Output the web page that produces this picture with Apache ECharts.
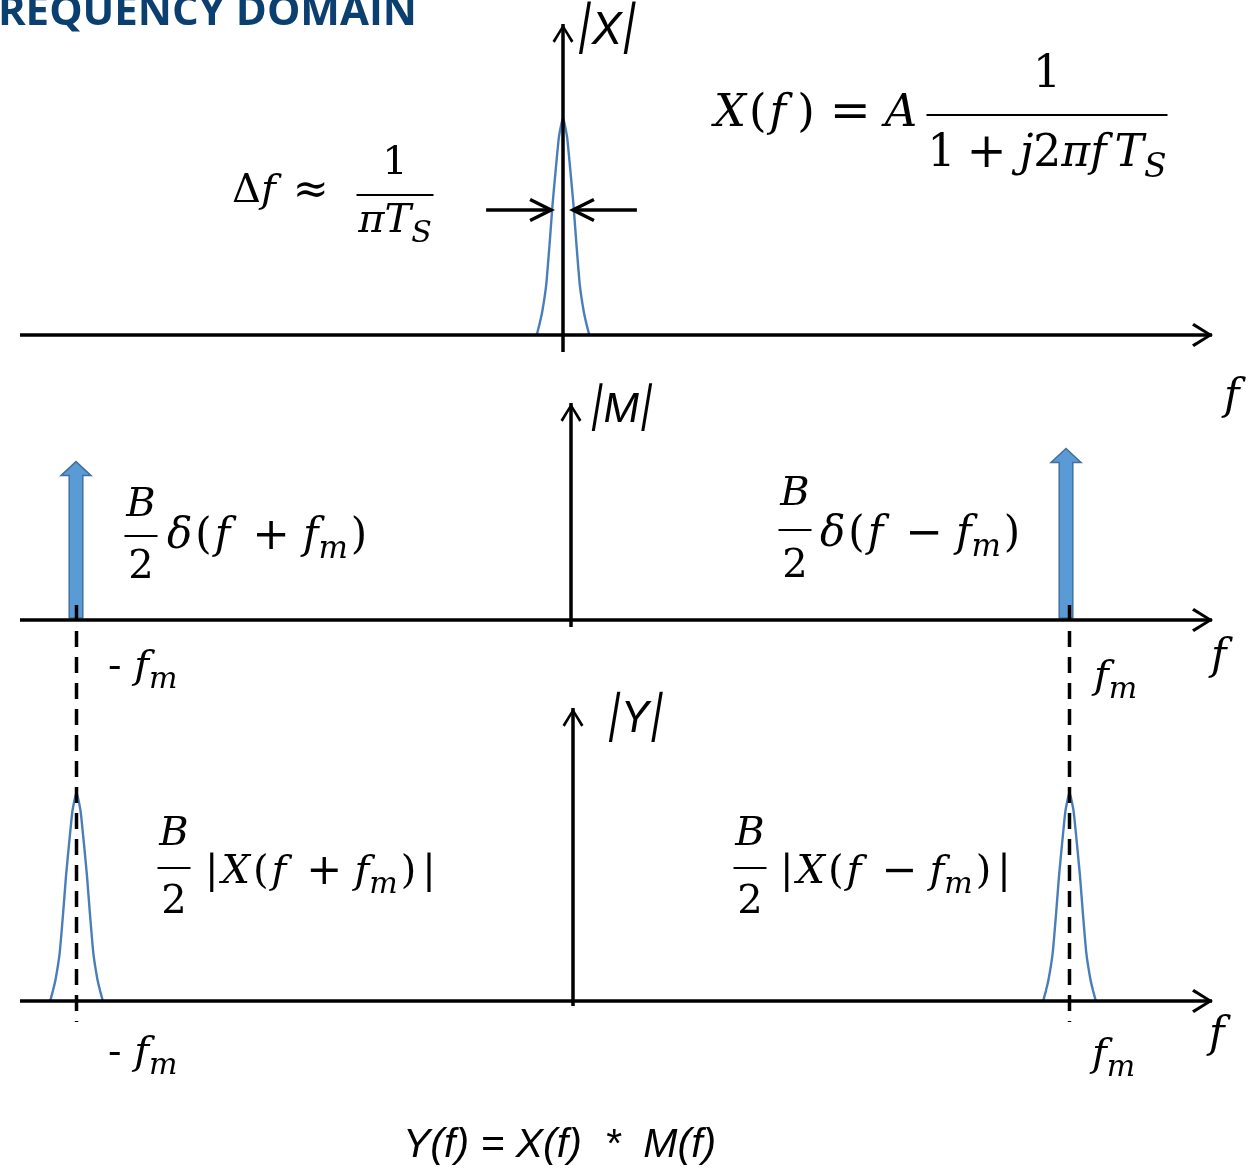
<!DOCTYPE html>
<html>
<head>
<meta charset="utf-8">
<script src="https://cdn.jsdelivr.net/npm/echarts@6/dist/echarts.min.js"></script>
<style>
  html, body { margin: 0; padding: 0; background: #fff; }
  #chart { width: 1253px; height: 1172px; }
</style>
</head>
<body>
<div id="chart"></div>
<script>
// ---- spectrum data (frequency in axis units, magnitude in amplitude units) ----
const fm = 10;                                   // modulation frequency
// Shape of |X(f)| around its centre: frequency offset and relative magnitude
const peakOffset = [-0.53, -0.474, -0.419, -0.339, -0.272, -0.212, -0.151, -0.085, -0.035, 0,
                    0.035, 0.085, 0.151, 0.212, 0.272, 0.339, 0.419, 0.474, 0.53];
const peakLevel  = [0, 0.05, 0.107, 0.23, 0.414, 0.598, 0.752, 0.907, 0.97, 1,
                    0.97, 0.907, 0.752, 0.598, 0.414, 0.23, 0.107, 0.05, 0];
const xPeakHeight = 1.0;                         // |X| at f = 0
const impulseFreqs = [-fm, fm];                  // |M| impulses
const impulseHeights = [0.73, 0.79];
const yPeakFreqs = [-fm, fm];                    // |Y| shifted copies
const yPeakHeights = [0.96, 0.96];
// Bandwidth markers on |X|: tail, tip, level
const widthArrowTails = [-1.55, 1.49];
const widthArrowTips = [-0.24, 0.2];
const widthArrowLevel = 0.576;

// ---- layout ----
const PX_PER_AMP = 217;
const panels = [
  { left: 20, right: 1212, center: 563, unit: 49.6,  axisY: 335,  top: 24,  bottom: 352 },
  { left: 20, right: 1212, center: 571, unit: 49.5,  axisY: 620,  top: 403, bottom: 627 },
  { left: 20, right: 1212, center: 573, unit: 49.65, axisY: 1001, top: 708, bottom: 1006 }
];
const DASH_TOP = (1001 - 605) / PX_PER_AMP;       // dashed guides run up into the |M| panel
const DASH_BOTTOM = -(1022 - 1001) / PX_PER_AMP;

const BLUE_LINE = '#4a7ebb';
const MATH_FONT = '"DejaVu Serif", "Liberation Serif", serif';
const SANS_FONT = '"Liberation Sans", Arial, sans-serif';
const LABEL_FONT = 'Inter, "DejaVu Sans", sans-serif';
const TITLE_FONT = '"Open Sans", "Noto Sans", sans-serif';
const CHEVRON = 'path://M12,0 L24,19 L21.4,21 L12,5.2 L2.6,21 L0,19 Z';

const grids = panels.map(p => ({
  left: p.left, width: p.right - p.left, top: p.top, height: p.bottom - p.top
}));
const axisLineCommon = (size) => ({
  show: true, onZero: true,
  lineStyle: { color: '#000', width: 3.5, cap: 'butt' },
  symbol: ['none', CHEVRON],
  symbolSize: size,
  symbolOffset: [0, -size[1] / 2 + 1]
});
const xAxes = panels.map((p, i) => ({
  type: 'value', gridIndex: i,
  min: (p.left - p.center) / p.unit, max: (p.right - p.center) / p.unit,
  axisLine: axisLineCommon([25, 21]),
  axisTick: { show: false }, axisLabel: { show: false }, splitLine: { show: false },
  z: 4
}));
const yAxes = panels.map((p, i) => ({
  type: 'value', gridIndex: i,
  min: -(p.bottom - p.axisY) / PX_PER_AMP, max: (p.axisY - p.top) / PX_PER_AMP,
  axisLine: axisLineCommon([21, 21]),
  axisTick: { show: false }, axisLabel: { show: false }, splitLine: { show: false },
  z: 4
}));

function peakData(centre, height) {
  return peakOffset.map((o, i) => [centre + o, peakLevel[i] * height]);
}
const peakLine = { color: BLUE_LINE, width: 2.4 };

const series = [
  {
    name: '|X|', type: 'line', xAxisIndex: 0, yAxisIndex: 0,
    data: peakData(0, xPeakHeight), smooth: 0.15, symbol: 'none', lineStyle: peakLine, z: 2
  },
  ...yPeakFreqs.map((f, k) => ({
    name: '|Y|', type: 'line', xAxisIndex: 2, yAxisIndex: 2,
    data: peakData(f, yPeakHeights[k]), smooth: 0.15, symbol: 'none', lineStyle: peakLine, z: 2
  })),
  {
    // impulses of |M| drawn as block arrows
    name: '|M|', type: 'custom', xAxisIndex: 1, yAxisIndex: 1, clip: false, z: 3,
    data: impulseFreqs.map((f, k) => [f, impulseHeights[k]]),
    renderItem: (params, api) => {
      const base = api.coord([api.value(0), 0]);
      const tip = api.coord([api.value(0), api.value(1)]);
      const x = base[0], sw = 6.8, hw = 15, hh = 14;
      const y0 = base[1] - 2, yh = tip[1] + hh;
      return {
        type: 'polygon',
        shape: { points: [[x - sw, y0], [x - sw, yh], [x - hw, yh], [x, tip[1]],
                          [x + hw, yh], [x + sw, yh], [x + sw, y0]] },
        style: { fill: '#5b9bd5', stroke: '#41719c', lineWidth: 1.5 }
      };
    }
  },
  {
    // dashed guides at ±fm through |M| and |Y|
    name: 'guides', type: 'custom', xAxisIndex: 2, yAxisIndex: 2, clip: false, z: 6,
    data: yPeakFreqs.map(f => [f]),
    renderItem: (params, api) => {
      const a = api.coord([api.value(0), DASH_TOP]);
      const b = api.coord([api.value(0), DASH_BOTTOM]);
      return {
        type: 'line',
        shape: { x1: a[0], y1: a[1], x2: b[0], y2: b[1] },
        style: { stroke: '#000', lineWidth: 3.5, lineDash: [16, 10] }
      };
    }
  },
  {
    // bandwidth arrows pointing at the |X| peak
    name: 'bandwidth', type: 'custom', xAxisIndex: 0, yAxisIndex: 0, clip: false, z: 5,
    data: widthArrowTails.map((t, k) => [t, widthArrowTips[k], widthArrowLevel]),
    renderItem: (params, api) => {
      const tail = api.coord([api.value(0), api.value(2)]);
      const tip = api.coord([api.value(1), api.value(2)]);
      const dir = Math.sign(tip[0] - tail[0]);
      const d = 21, s = 10.5;
      return {
        type: 'group',
        children: [
          { type: 'line', shape: { x1: tail[0], y1: tail[1], x2: tip[0] - dir * 2, y2: tip[1] },
            style: { stroke: '#000', lineWidth: 3.5 } },
          { type: 'polyline',
            shape: { points: [[tip[0] - dir * d, tip[1] - s], [tip[0], tip[1]], [tip[0] - dir * d, tip[1] + s]] },
            style: { stroke: '#000', lineWidth: 3.5, fill: null, lineJoin: 'miter' } }
        ]
      };
    }
  }
];

// ---- formula and label text ----
// rich styles: i = italic variable, f = italic f with italic correction,
// fo = italic f before an operator, n = upright, p = delimiter,
// o = binary operator with math spacing, sub = subscript
function mathRich(size) {
  const base = { fontFamily: MATH_FONT, fontSize: size, fill: '#000' };
  return {
    i: Object.assign({}, base, { fontStyle: 'italic' }),
    f: Object.assign({}, base, { fontStyle: 'italic', padding: [0, Math.round(size * 0.18), 0, 0] }),
    fo: Object.assign({}, base, { fontStyle: 'italic', padding: [0, Math.round(size * 0.26), 0, 0] }),
    n: Object.assign({}, base),
    p: Object.assign({}, base, { padding: [0, 3, 0, 3] }),
    o: Object.assign({}, base, { fontSize: Math.round(size * 1.08),
                                 padding: [0, Math.round(size * 0.3), 0, Math.round(size * 0.26)] }),
    sub: Object.assign({}, base, { fontStyle: 'italic', fontSize: Math.round(size * 0.74),
                                   padding: [Math.round(size * 0.6), 0, 0, 0] })
  };
}
function mtext(x, y, text, size, align) {
  return { type: 'text', x, y, z: 10,
           style: { text, rich: mathRich(size), align: align || 'left', verticalAlign: 'middle', fill: '#000' } };
}
function stext(x, y, text, size, family) {
  return { type: 'text', x, y, z: 10,
           style: { text, font: 'italic ' + size + 'px ' + (family || SANS_FONT), fill: '#000',
                    align: 'left', verticalAlign: 'middle' } };
}
function fraction(cx, barY, barW, num, numY, den, denY, size) {
  return [
    { type: 'line', z: 10, shape: { x1: cx - barW / 2, y1: barY, x2: cx + barW / 2, y2: barY },
      style: { stroke: '#000', lineWidth: 2 } },
    mtext(cx, numY, num, size, 'center'),
    mtext(cx, denY, den, size, 'center')
  ];
}

const graphics = [
  { type: 'text', x: 417, y: 13, z: 10,
    style: { text: 'FREQUENCY DOMAIN', font: 'bold 42px ' + TITLE_FONT, fill: '#0b3f70',
             align: 'right', verticalAlign: 'middle' } },
  stext(577, 31, '|X|', 44, LABEL_FONT),
  stext(590, 410, '|M|', 40, LABEL_FONT),
  stext(607, 719, '|Y|', 42, LABEL_FONT),
  stext(403, 1146, 'Y(f) = X(f)  *  M(f)', 41),

  mtext(232, 192, '{n|Δ}{f|f}{o|≈}', 40),
  ...fraction(395, 195, 77, '{n|1}', 164, '{i|πT}{sub|S}', 222, 40),

  mtext(714, 114, '{i|X}{p|(}{f|f}{p|)}{o|=}{i|A}', 45),
  ...fraction(1047, 115, 241, '{n|1}', 76, '{n|1}{o|+}{i|j}{n|2}{i|π}{f|f}{i|T}{sub|S}', 155, 44),

  ...fraction(141, 536, 33, '{i|B}', 506, '{n|2}', 568, 40),
  mtext(167, 537, '{i|δ}{p|(}{fo|f}{o|+}{i|f}{sub|m}{p|)}', 42),
  ...fraction(795, 530, 33, '{i|B}', 495, '{n|2}', 567, 40),
  mtext(820, 535, '{i|δ}{p|(}{fo|f}{o|−}{i|f}{sub|m}{p|)}', 42),

  ...fraction(174, 868, 33, '{i|B}', 835, '{n|2}', 903, 40),
  mtext(202, 873, '{p||}{i|X}{p|(}{fo|f}{o|+}{i|f}{sub|m}{p|)}{p||}', 40),
  ...fraction(750, 868, 33, '{i|B}', 835, '{n|2}', 903, 40),
  mtext(777, 873, '{p||}{i|X}{p|(}{fo|f}{o|−}{i|f}{sub|m}{p|)}{p||}', 40),

  mtext(108, 668, '{n|- }{i|f}{sub|m}', 40),
  mtext(1094, 678, '{i|f}{sub|m}', 40),
  mtext(108, 1054, '{n|- }{i|f}{sub|m}', 40),
  mtext(1092, 1056, '{i|f}{sub|m}', 40),

  mtext(1224, 398, '{i|f}', 42),
  mtext(1211, 658, '{i|f}', 42),
  mtext(1209, 1036, '{i|f}', 42)
];

const chart = echarts.init(document.getElementById('chart'), null, { renderer: 'canvas' });
chart.setOption({
  animation: false,
  backgroundColor: '#fff',
  grid: grids,
  xAxis: xAxes,
  yAxis: yAxes,
  series,
  graphic: graphics
});
</script>
</body>
</html>
